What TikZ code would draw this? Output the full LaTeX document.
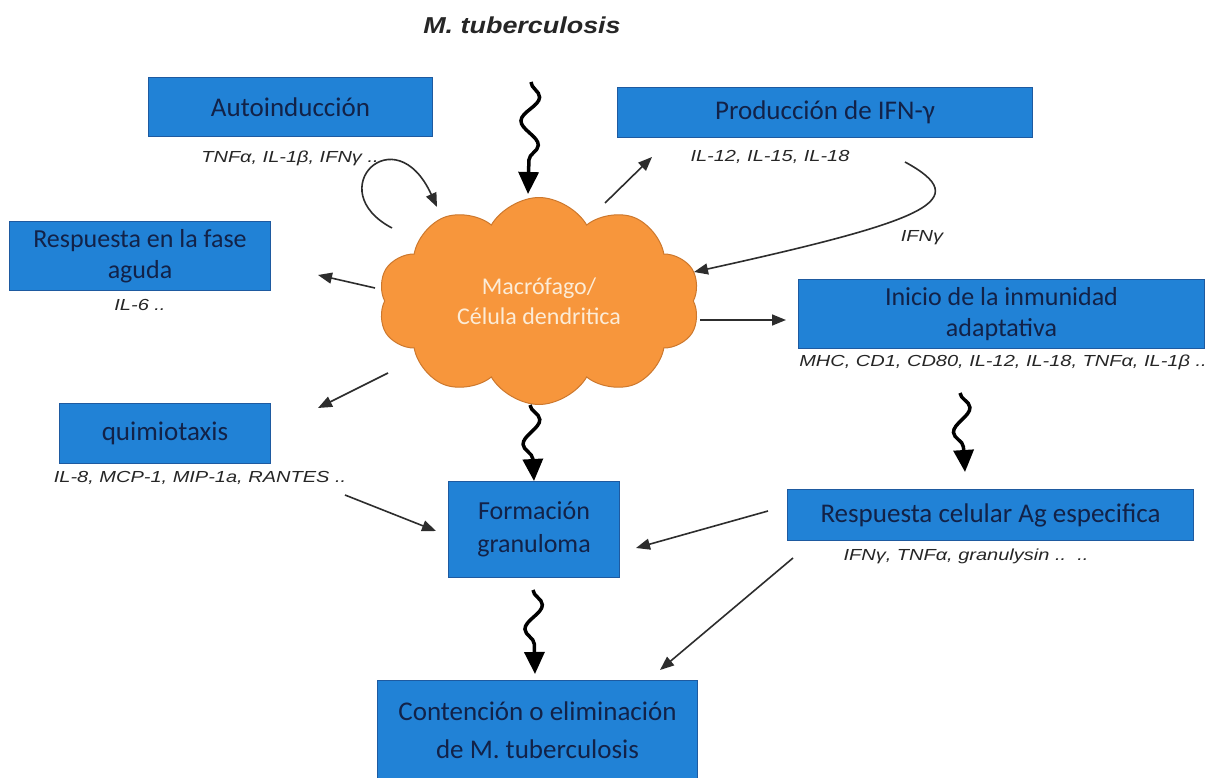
\documentclass[tikz,border=0pt]{standalone}
\usepackage{fontspec}
\setmainfont{Carlito}
\newfontfamily\lab[FakeStretch=1.25]{Liberation Sans}
\newfontfamily\ttl[FakeStretch=1.17]{Liberation Sans}
\usetikzlibrary{shapes.symbols,arrows.meta,decorations.pathmorphing}
\definecolor{boxblue}{RGB}{33,130,214}
\definecolor{boxedge}{RGB}{30,90,160}
\definecolor{boxtext}{RGB}{18,34,72}
\definecolor{cloudfill}{RGB}{247,150,60}
\definecolor{cloudedge}{RGB}{205,120,45}
\definecolor{cloudtext}{RGB}{252,236,215}
\definecolor{arrowgray}{RGB}{45,45,45}
\begin{document}
\begin{tikzpicture}[x=1pt,y=-1pt,
  bluebox/.style={draw=boxedge, line width=1pt, fill=boxblue, text=boxtext,
    font=\fontsize{27}{32}\selectfont, align=center, inner sep=0pt, anchor=north west},
  lbl/.style={font=\lab\itshape\fontsize{16}{19}\selectfont, text=black!85, inner sep=0pt},
  thinarrow/.style={draw=arrowgray, line width=1.6pt, -{Triangle[length=14pt,width=11pt]}},
  wavyarrow/.style={draw=black, line width=3.5pt, -{Triangle[length=22pt,width=20pt]},
    decorate, decoration={snake, amplitude=9pt, segment length=48pt, post length=22pt}}
]
\useasboundingbox (0,0) rectangle (1216,778);
\fill[white] (0,0) rectangle (1216,778);

% title
\node[font=\ttl\bfseries\itshape\fontsize{23}{26}\selectfont, text=black!85, inner sep=0pt] (title) at (522,25) {M. tuberculosis};

% boxes
\node[bluebox, minimum width=284pt, minimum height=59pt] (auto) at (148,77) {Autoinducción};
\node[bluebox, minimum width=415pt, minimum height=50pt] (prod) at (617,87) {Producción de IFN-γ};
\node[bluebox, minimum width=261pt, minimum height=69pt, font=\fontsize{26}{31}\selectfont] (fase) at (9,221) {Respuesta en la fase\\aguda};
\node[bluebox, minimum width=406pt, minimum height=69pt, font=\fontsize{26}{31}\selectfont] (inicio) at (798,279) {Inicio de la inmunidad\\adaptativa};
\node[bluebox, minimum width=211pt, minimum height=60pt] (quimio) at (59,403) {quimiotaxis};
\node[bluebox, minimum width=171pt, minimum height=96pt, font=\fontsize{26}{33}\selectfont] (gran) at (448,481) {Formación\\granuloma};
\node[bluebox, minimum width=406pt, minimum height=51pt] (resp) at (787,489) {Respuesta celular Ag especifica};
\node[bluebox, minimum width=320pt, minimum height=100pt, font=\fontsize{27}{38}\selectfont] (cont) at (377,680) {Contención o eliminación\\de M. tuberculosis};

% cloud
\node[cloud, cloud puffs=10, cloud puff arc=120, cloud ignores aspect,
  minimum width=322pt, minimum height=207pt, inner sep=0pt,
  draw=cloudedge, line width=1pt, fill=cloudfill, text=cloudtext,
  font=\fontsize{24}{30}\selectfont, align=center] (cloud) at (539,301) {Macrófago/\\Célula dendritica};

% labels
\node[lbl] (autolbl) at (290,158) {TNFα, IL-1β, IFNγ ..};
\node[lbl] (prodlbl) at (770,157) {IL-12, IL-15, IL-18};
\node[lbl] (faselbl) at (140,305) {IL-6 ..};
\node[lbl] (iniciolbl) at (1003,362) {MHC, CD1, CD80, IL-12, IL-18, TNFα, IL-1β ..};
\node[lbl] (quimiolbl) at (200,478) {IL-8, MCP-1, MIP-1a, RANTES ..};
\node[lbl] (resplbl) at (966,556) {IFNγ, TNFα, granulysin ..\ \ ..};
\node[lbl] (ifnlbl) at (922,238) {IFNγ};

% coordinates
\coordinate (w1s) at (531,82);
\coordinate (w1e) at (528,194);
\coordinate (w2s) at (530,405);
\coordinate (w3s) at (533,590);
\coordinate (w3e) at (535,674);
\coordinate (w4s) at (960,393);
\coordinate (w4e) at (965,472);
\coordinate (cprod) at (605,203);
\coordinate (eprod) at (652,157);
\coordinate (autos) at (392,228);
\coordinate (autoe) at (437,207);
\coordinate (ifns) at (905,162);
\coordinate (ifne) at (694,272);
\coordinate (cfase) at (375,288);
\coordinate (efase) at (318,275);
\coordinate (cini) at (700,320);
\coordinate (eini) at (786,320);
\coordinate (cquim) at (388,373);
\coordinate (equim) at (318,408);
\coordinate (qgs) at (345,495);
\coordinate (qge) at (436,531);
\coordinate (rgs) at (768,511);
\coordinate (rge) at (636,548);
\coordinate (rcs) at (793,558);
\coordinate (rce) at (660,670);

% wavy arrows
\draw[wavyarrow] (w1s) -- (w1e);
\draw[wavyarrow] (w2s) -- (gran.north);
\draw[wavyarrow] (w3s) -- (w3e);
\draw[wavyarrow] (w4s) -- (w4e);

% thin arrows
\draw[thinarrow] (cprod) -- (eprod);
\draw[thinarrow] (autos) .. controls (320,190) and (395,115) .. (autoe);
\draw[thinarrow] (ifns) .. controls (975,200) and (930,220) .. (ifne);
\draw[thinarrow] (cfase) -- (efase);
\draw[thinarrow] (cini) -- (eini);
\draw[thinarrow] (cquim) -- (equim);
\draw[thinarrow] (qgs) -- (qge);
\draw[thinarrow] (rgs) -- (rge);
\draw[thinarrow] (rcs) -- (rce);
\end{tikzpicture}
\end{document}
